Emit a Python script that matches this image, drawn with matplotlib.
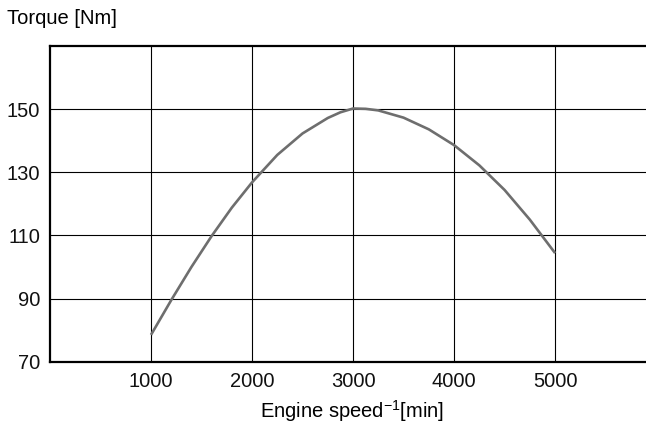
import matplotlib
matplotlib.use('Agg')
import matplotlib.pyplot as plt

plt.rcParams['font.family'] = ['Liberation Sans', 'DejaVu Sans']
plt.rcParams['mathtext.fontset'] = 'custom'
plt.rcParams['mathtext.rm'] = 'Liberation Sans'
plt.rcParams['mathtext.it'] = 'Liberation Sans'

# engine speed [1/min] vs torque [Nm]
speed = [1000, 1200, 1400, 1600, 1800, 2000, 2250, 2500, 2750, 2875, 3000,
         3125, 3250, 3500, 3750, 4000, 4250, 4500, 4750, 5000]
torque = [78.5, 89.5, 100.0, 109.8, 118.8, 126.8, 135.5, 142.3, 147.2, 149.0, 150.2,
          150.1, 149.6, 147.3, 143.6, 138.6, 132.2, 124.4, 115.0, 104.4]

xticks = [1000, 2000, 3000, 4000, 5000]
yticks = [70, 90, 110, 130, 150]

fig = plt.figure(figsize=(6.46, 4.24), dpi=100)
ax = fig.add_axes([50 / 646, 1 - 361.7 / 424, 1 - 50 / 646, (361.7 - 46) / 424])

ax.plot(speed, torque, color='#6e6e6e', lw=1.9, solid_capstyle='butt',
        solid_joinstyle='round', zorder=3)

ax.set_xlim(0, 5900)
ax.set_ylim(70, 170)
ax.set_xticks(xticks)
ax.set_yticks(yticks)
ax.tick_params(length=0, labelsize=14.5, colors='#111111')
ax.tick_params(axis='x', pad=7.5)
ax.tick_params(axis='y', pad=7)
ax.grid(True, color='black', lw=0.8)

for side in ['left', 'bottom', 'top']:
    ax.spines[side].set_linewidth(1.6)
    ax.spines[side].set_color('black')
ax.spines['right'].set_visible(False)

fig.text(7 / 646, 1 - 19 / 424, 'Torque [Nm]', fontsize=14.5, va='center', ha='left')
fig.text(352.5 / 646, 1 - 411 / 424, 'Engine speed$^{-1}$[min]', fontsize=14.5,
         va='center', ha='center')

fig.savefig('out.png', dpi=100)
